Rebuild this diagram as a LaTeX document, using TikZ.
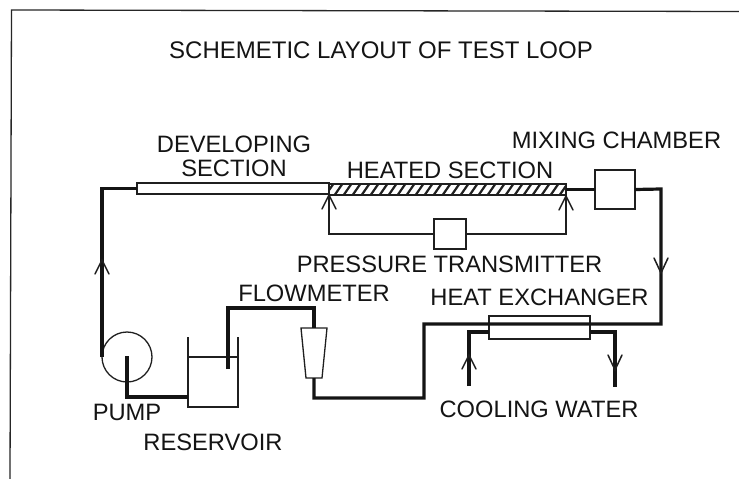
\documentclass[tikz,border=0pt]{standalone}
\usepackage{fontspec}
\setmainfont{Liberation Sans}
\tikzset{
  pipe/.style={line width=3.2pt,draw=black!92,line join=miter},
  thinpipe/.style={line width=2.3pt,draw=black!92},
  signal/.style={line width=1.2pt,draw=black!88},
  vessel/.style={line width=1.3pt,draw=black!88,fill=white,inner sep=0pt,outer sep=0pt},
  lbl/.style={inner sep=0pt,font=\fontsize{23.7}{26}\selectfont,text=black!92},
  titlelbl/.style={lbl,font=\fontsize{24}{26}\selectfont},
  headmark/.style={line width=1.5pt,draw=black!88,line cap=round,line join=miter}
}
\newcommand{\upmark}[2]{\draw[headmark] (#1-7,#2+14)--(#1,#2)--(#1+7,#2+14);}
\newcommand{\downmark}[2]{\draw[headmark] (#1-7,#2-15)--(#1,#2)--(#1+7,#2-15);}
\begin{document}
\begin{tikzpicture}[x=1pt,y=-1pt]
\useasboundingbox (0,0) rectangle (739,479);
\fill[white] (0,0) rectangle (739,479);
% frame
\coordinate (fa) at (10,479); \coordinate (fb) at (11.5,10); \coordinate (fc) at (739,11.5);
\draw[line width=1.3pt,black!85] (fa)--(fb)--(fc);
% labels
\node[titlelbl] (title) at (381,50) {SCHEMETIC LAYOUT OF TEST LOOP};
\node[lbl] (ldev) at (234,144) {DEVELOPING};
\node[lbl] (lsec) at (234,168) {SECTION};
\node[lbl] (lheat) at (450,170) {HEATED SECTION};
\node[lbl] (lmix) at (616.5,140) {MIXING CHAMBER};
\node[lbl] (lpres) at (449.5,264) {PRESSURE TRANSMITTER};
\node[lbl] (lflow) at (314,293) {FLOWMETER};
\node[lbl] (lhx) at (539.5,297) {HEAT EXCHANGER};
\node[lbl] (lcool) at (539,409) {COOLING WATER};
\node[lbl] (lpump) at (127,412) {PUMP};
\node[lbl] (lres) at (213,442) {RESERVOIR};
% vessels
\node[vessel,minimum width=192pt,minimum height=11pt] (dev) at (233,188.5) {};
\node[vessel,minimum width=237pt,minimum height=11pt] (heated) at (447.5,189.5) {};
\begin{scope}
\clip (329,184) rectangle (566,195);
\foreach \hx in {325,334,...,575} \draw[line width=2.2pt,black!88] (\hx,196)--(\hx+9,183);
\end{scope}
\draw[line width=1.3pt,black!88] (heated.north west) rectangle (heated.south east);
\node[vessel,minimum width=40pt,minimum height=39pt] (mixer) at (615,189.5) {};
\node[vessel,minimum width=32pt,minimum height=30pt] (trans) at (450,234) {};
\node[vessel,minimum width=101pt,minimum height=23pt] (hx) at (539.5,327.5) {};
\node[vessel,circle,minimum size=50pt] (pump) at (127,357) {};
% reservoir
\coordinate (ra) at (188,337); \coordinate (rb) at (188,407); \coordinate (rc) at (238,407); \coordinate (rd) at (238,337);
\coordinate (rl) at (188,357); \coordinate (rr) at (238,357);
\draw[signal] (ra)--(rb)--(rc)--(rd);
\draw[signal] (rl)--(rr);
% flowmeter
\coordinate (fma) at (301,328); \coordinate (fmb) at (327,328); \coordinate (fmc) at (322,378); \coordinate (fmd) at (306,378);
\draw[vessel] (fma)--(fmb)--(fmc)--(fmd)--cycle;
% pipe points
\coordinate (p1) at (102,357);
\coordinate (p2) at (102,188.5);
\coordinate (p3) at (127,356);
\coordinate (p4) at (127,397);
\coordinate (p5) at (188,397);
\coordinate (p6) at (228,369);
\coordinate (p7) at (228,308);
\coordinate (p8) at (314,308);
\coordinate (p9) at (314,328);
\coordinate (p10) at (314,378);
\coordinate (p11) at (314,398);
\coordinate (p12) at (424,398);
\coordinate (p13) at (424,324);
\coordinate (p14) at (661,324);
\coordinate (p15) at (661,189);
\coordinate (c1) at (469,386);
\coordinate (c2) at (469,332);
\coordinate (c3) at (489,332);
\coordinate (c4) at (590,332);
\coordinate (c5) at (615,332);
\coordinate (c6) at (615,387);
% pipes
\draw[pipe] (p1)--(p2)--(dev.west);
\draw[pipe] (p3)--(p4)--(p5);
\draw[pipe] (p6)--(p7)--(p8)--(p9);
\draw[pipe] (p10)--(p11)--(p12)--(p13)--(p14)--(p15)--(mixer.east);
\draw[thinpipe] (heated.east)--(mixer.west);
\draw[pipe] (c1)--(c2)--(c3);
\draw[pipe] (c4)--(c5)--(c6);
% pressure lines
\coordinate (s1) at (329,234);
\coordinate (s2) at (566,234);
\draw[signal] (heated.south west)--(s1)--(trans.west);
\draw[signal] (trans.east)--(s2)--(heated.south east);
% flow marks
\upmark{102}{260}
\downmark{661}{273}
\upmark{329}{195}
\upmark{566}{196}
\upmark{469}{355}
\downmark{615}{370}
\end{tikzpicture}
\end{document}
